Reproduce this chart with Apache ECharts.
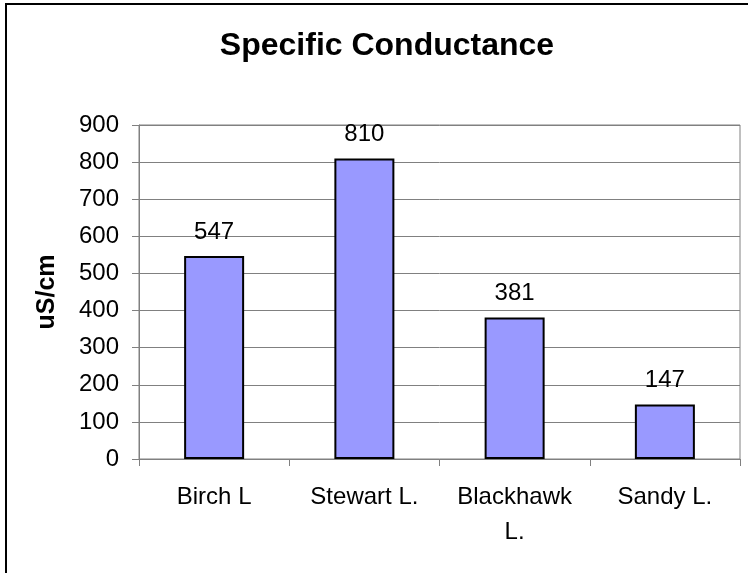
<!DOCTYPE html>
<html>
<head>
<meta charset="utf-8">
<style>
  html, body { margin: 0; padding: 0; background: #fff; }
  .chart { width: 748px; height: 573px; }
</style>
<script src="https://cdn.jsdelivr.net/npm/echarts@6/dist/echarts.min.js"></script>
</head>
<body>
<div class="chart"></div>
<script>
var lakes = ["Birch L", "Stewart L.", "Blackhawk\nL.", "Sandy L."];
var conductance = [547, 810, 381, 147];
var yTicks = [0, 100, 200, 300, 400, 500, 600, 700, 800, 900];

(function () {
  var myChart = echarts.init(document.querySelector(".chart"));
  var font = "Liberation Sans, Arial, sans-serif";
  var option = {
    backgroundColor: "#fff",
    animation: false,
    title: {
      text: "Specific Conductance",
      left: 382,
      top: 25,
      textAlign: "center",
      textStyle: { fontFamily: font, fontSize: 32, fontWeight: "bold", color: "#000" },
    },
    graphic: [
      {
        type: "rect",
        shape: { x: 6, y: 4, width: 800, height: 700 },
        style: { fill: "none", stroke: "#000", lineWidth: 2 },
        silent: true,
      },
    ],
    grid: {
      left: 139,
      right: 8,
      top: 125,
      bottom: 114,
      show: true,
      borderColor: "#808080",
      borderWidth: 1,
    },
    xAxis: {
      type: "category",
      data: lakes,
      axisLine: { lineStyle: { color: "#808080", width: 1 } },
      axisTick: { show: true, length: 7, lineStyle: { color: "#808080" } },
      axisLabel: {
        fontFamily: font,
        fontSize: 24,
        color: "#000",
        margin: 21,
        lineHeight: 35,
        interval: 0,
      },
    },
    yAxis: {
      type: "value",
      min: yTicks[0],
      max: yTicks[yTicks.length - 1],
      interval: 100,
      name: "uS/cm",
      nameLocation: "middle",
      nameGap: 79,
      nameTextStyle: { fontFamily: font, fontSize: 25, fontWeight: "bold", color: "#000" },
      axisLine: { show: true, lineStyle: { color: "#808080", width: 1 } },
      axisTick: { show: true, length: 7, lineStyle: { color: "#808080" } },
      axisLabel: { fontFamily: font, fontSize: 24, color: "#000", margin: 20 },
      splitLine: { lineStyle: { color: "#808080", width: 1 } },
    },
    series: [
      {
        type: "bar",
        data: conductance,
        barWidth: 60,
        itemStyle: { color: "#9999ff", borderColor: "#000", borderWidth: 2 },
        label: {
          show: true,
          position: "top",
          distance: 12,
          fontFamily: font,
          fontSize: 24,
          color: "#000",
        },
      },
    ],
  };
  myChart.setOption(option);

  window.addEventListener("resize", function () {
    myChart.resize();
  });
})();
</script>
</body>
</html>
